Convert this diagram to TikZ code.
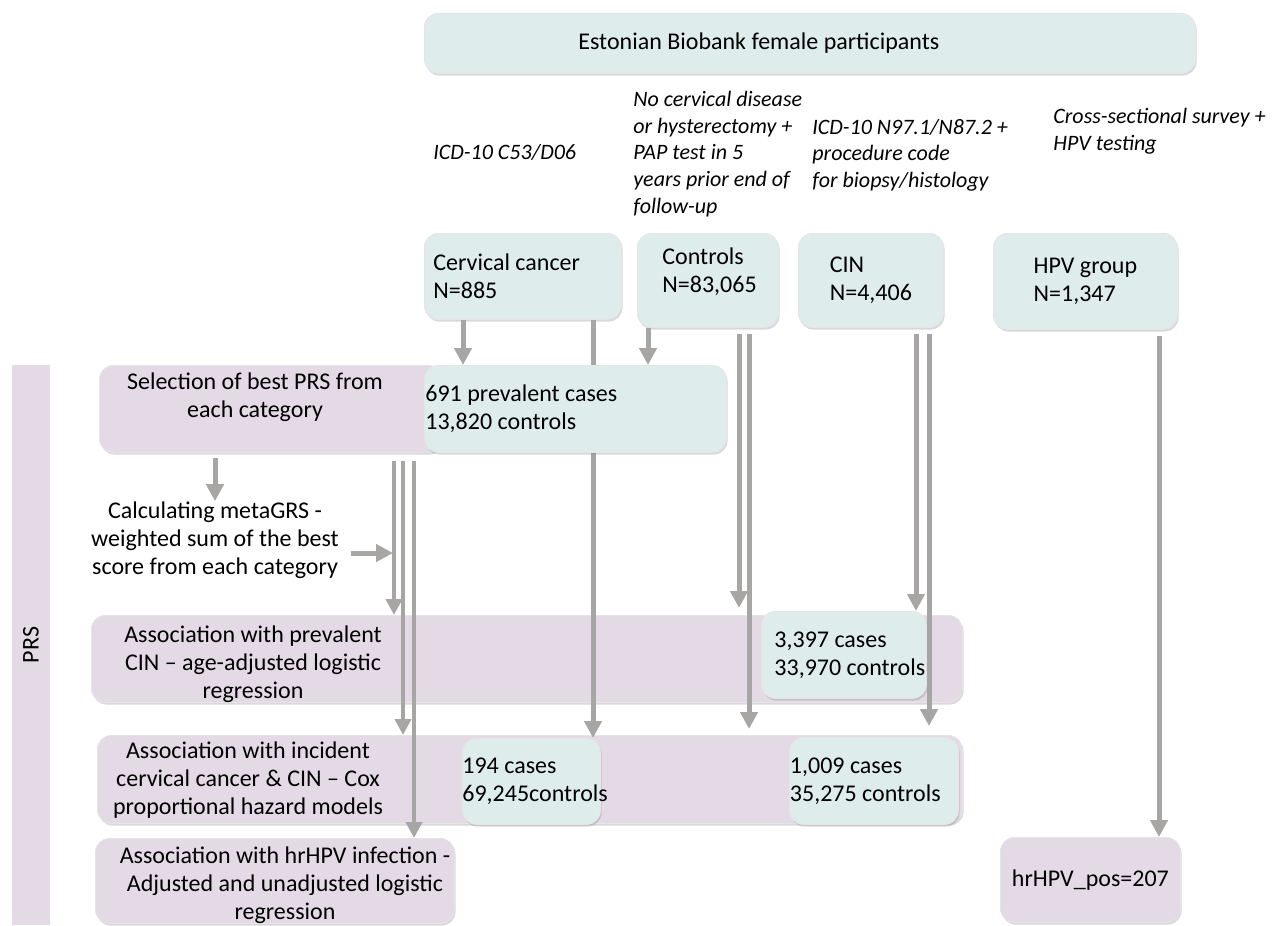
\documentclass[tikz,border=0pt]{standalone}
\usepackage{fontspec}
\setmainfont{Carlito}
\usepackage{xcolor}
\usetikzlibrary{arrows.meta,positioning,shadows}

\definecolor{bluefill}{RGB}{222,236,236}
\definecolor{pinkfill}{RGB}{228,218,230}
\definecolor{arrgray}{RGB}{168,165,165}

\begin{document}
\begin{tikzpicture}[x=0.5pt, y=-0.5pt, font=\fontsize{12}{14}\selectfont,
  box/.style={draw=black!10, rounded corners=7pt, anchor=north west,
              drop shadow={shadow xshift=0.6pt, shadow yshift=-1.1pt, opacity=0.3}},
  blubox/.style={box, fill=bluefill},
  pinkbox/.style={box, fill=pinkfill},
  crit/.style={font=\fontsize{11}{13.3}\selectfont\itshape, align=flush left, inner sep=0pt},
  txt/.style={align=center, inner sep=0pt},
  arr/.style={arrgray, line width=2.5pt, -{Triangle[length=8.5pt,width=8.5pt]}},
  arrn/.style={arrgray, line width=2pt, -{Triangle[length=8pt,width=8pt]}}]
\useasboundingbox (0,0) rectangle (1272,925);

% lanes of the vertical connectors
\coordinate (lnCa) at (463,0);
\coordinate (lnCb) at (593,0);
\coordinate (lnCt) at (648,0);
\coordinate (lnCc1) at (739,0);
\coordinate (lnCc2) at (749,0);
\coordinate (lnN1) at (916,0);
\coordinate (lnN2) at (929,0);
\coordinate (lnH) at (1159,0);
\coordinate (lnT1) at (394,0);
\coordinate (lnT2) at (403,0);
\coordinate (lnT3) at (414,0);
\coordinate (lnSel) at (215,0);
\coordinate (jn) at (393,553);

% PRS band
\node[fill=pinkfill, minimum width=19pt, minimum height=280pt, inner sep=0pt] (prs) at (31,645) {\rotatebox{90}{PRS}};

% pink rows
\node[pinkbox, minimum width=171.5pt, minimum height=43.5pt] (selbox) at (99,365) {};
\node[pinkbox, minimum width=435.5pt, minimum height=43.5pt] (prevbox) at (91,615) {};
\node[pinkbox, minimum width=432.5pt, minimum height=44pt] (incbox) at (97,735) {};
\node[pinkbox, minimum width=179.5pt, minimum height=42.5pt] (hrbox) at (95,838) {};
\node[pinkbox, minimum width=90pt, minimum height=42.5pt] (hrpos) at (1000,837) {hrHPV\_pos=207};

% cohort
\node[blubox, minimum width=385.5pt, minimum height=30pt] (ebb) at (424,13) {};
\node[anchor=west, inner sep=0pt] (ebbt) at (578,43) {Estonian Biobank female participants};

\node[crit, anchor=west] (crCC) at (433,152) {ICD-10 C53/D06};
\node[crit, anchor=west] (crCt) at (633,154) {No cervical disease\\or hysterectomy +\\PAP test in 5\\years prior end of\\follow-up};
\node[crit, anchor=west] (crCIN) at (812,155) {ICD-10 N97.1/N87.2 +\\procedure code\\for biopsy/histology};
\node[crit, anchor=east] (crHPV) at (1266,131) {Cross-sectional survey +\\HPV testing};

\node[blubox, minimum width=98.5pt, minimum height=43pt, align=flush left, text width=89.5pt] (cc) at (424,233) {Cervical cancer\\N=885};
\node[blubox, minimum width=70.5pt, minimum height=47pt] (ctl) at (637,233) {};
\node[align=flush left, anchor=west, inner sep=0pt] (ctlt) at (662,272) {Controls\\N=83,065};
\node[blubox, minimum width=72.5pt, minimum height=47pt, align=flush left] (cin) at (798,233) {CIN\\N=4,406};
\node[blubox, minimum width=92pt, minimum height=48pt, align=flush left] (hpv) at (993,233) {HPV group\\N=1,347};

% sample boxes
\node[blubox, minimum width=82.5pt, minimum height=43.5pt, align=flush left, text width=69.5pt, inner xsep=6.5pt] (b3397) at (761,611) {3,397 cases\\\mbox{33,970 controls}};
\node[blubox, minimum width=69pt, minimum height=43pt, align=flush left, text width=69pt, inner xsep=0pt] (b194) at (462,738) {194 cases\\69,245controls};
\node[blubox, minimum width=84.5pt, minimum height=43.5pt, align=flush left, text width=84pt, inner xsep=0.25pt] (b1009) at (789,737) {1,009 cases\\35,275 controls};

\draw[arr] (cc.south -| lnCb) -- (b194.north -| lnCb);
\node[blubox, minimum width=151pt, minimum height=43.5pt, align=flush left, text width=150pt, inner xsep=0.5pt] (p691) at (424,365) {691 prevalent cases\\13,820 controls};

% analysis texts
\node[txt] (sel) at (255,397) {Selection of best PRS from\\each category};
\node[txt] (calc) at (215,540) {Calculating metaGRS -\\weighted sum of the best\\score from each category};
\node[txt] (prevt) at (253,664) {Association with prevalent\\CIN -- age-adjusted logistic\\regression};
\node[txt] (inct) at (248,780) {Association with incident\\cervical cancer \& CIN -- Cox\\proportional hazard models};
\node[txt] (hrt) at (285,885) {Association with hrHPV infection -\\Adjusted and unadjusted logistic\\regression};

% connectors
\draw[arr] (cc.south -| lnCa) -- (p691.north -| lnCa);
\draw[arr] (ctl.south -| lnCt) -- (p691.north -| lnCt);
\draw[arr, shorten <=3pt, shorten >=3.5pt] (ctl.south -| lnCc1) -- (prevbox.north -| lnCc1);
\draw[arr, shorten <=3pt, shorten >=3pt] (ctl.south -| lnCc2) -- (incbox.north -| lnCc2);
\draw[arr, shorten <=3pt] (cin.south -| lnN1) -- (b3397.north -| lnN1);
\draw[arr, shorten <=3pt, shorten >=5.5pt] (cin.south -| lnN2) -- (b1009.north -| lnN2);
\draw[arr, shorten <=3pt] (hpv.south -| lnH) -- (hrpos.north -| lnH);
\draw[arr, shorten <=2.5pt] (selbox.south -| lnSel) -- (calc.north -| lnSel);
\draw[arr, shorten <=6pt] (calc.east |- jn) -- (jn);
\draw[arrn, shorten <=4pt] (selbox.south -| lnT1) -- (prevbox.north -| lnT1);
\draw[arrn, shorten <=4pt] (selbox.south -| lnT2) -- (incbox.north -| lnT2);
\draw[arrn, shorten <=4pt] (selbox.south -| lnT3) -- (hrbox.north -| lnT3);
\end{tikzpicture}
\end{document}
